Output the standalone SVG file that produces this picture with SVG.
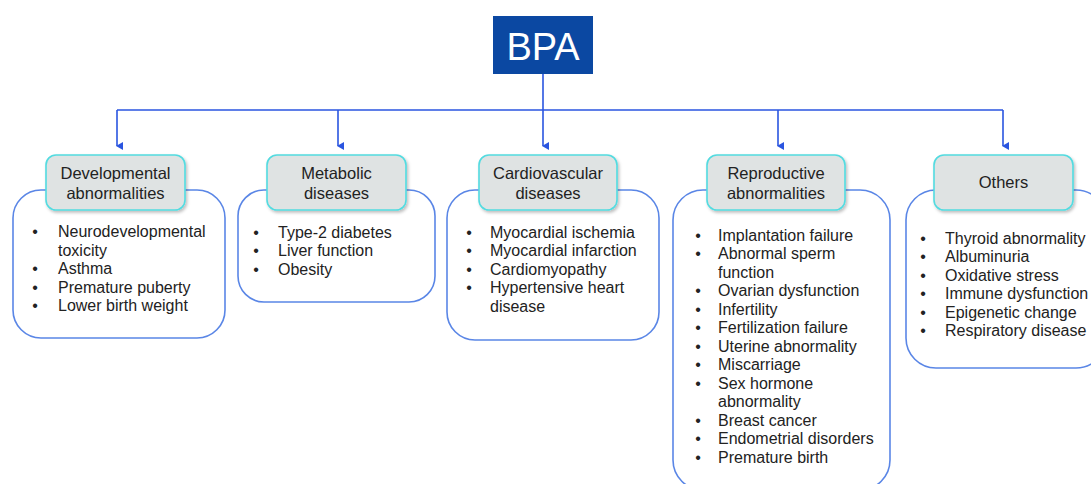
<svg xmlns="http://www.w3.org/2000/svg" width="1091" height="484" viewBox="0 0 1091 484">
<defs>
<marker id="arr" markerWidth="8" markerHeight="8" refX="4" refY="7" orient="auto" markerUnits="userSpaceOnUse" viewBox="0 0 8 8">
<path d="M0,1 L8,1 L4,8 Z" fill="#2a55e0"/>
</marker>
<filter id="sh" x="-10%" y="-10%" width="125%" height="135%">
<feDropShadow dx="1.5" dy="2" stdDeviation="1.5" flood-color="#000" flood-opacity="0.25"/>
</filter>
</defs>
<style>
.conn{fill:none;stroke:#2a55e0;stroke-width:1.6}
.outer{fill:#fff;stroke:#5a86e6;stroke-width:1.6}
.hdr{fill:#dfe3e3;stroke:#52dbe0;stroke-width:1.6;filter:url(#sh)}
.ht{font-family:"Liberation Sans",Arial,sans-serif;font-size:16.5px;fill:#222;text-anchor:middle}
.it{font-family:"Liberation Sans",Arial,sans-serif;font-size:16px;fill:#222}
.bu{font-family:"Liberation Sans",Arial,sans-serif;font-size:16px;fill:#222;text-anchor:middle}
</style>
<rect width="1091" height="484" fill="#fff"/>

<g id="bpa">
<rect x="493" y="16" width="100" height="58" fill="#0b48a2"/>
<text x="543" y="60" font-family="Liberation Sans,Arial,sans-serif" font-size="38" fill="#fff" text-anchor="middle">BPA</text>
</g>

<g id="connectors">
<path class="conn" d="M543,74 V110"/>
<path class="conn" d="M117,110 H1003"/>
<path class="conn" d="M117,110 V146" marker-end="url(#arr)"/>
<path class="conn" d="M338,110 V146" marker-end="url(#arr)"/>
<path class="conn" d="M543,110 V146" marker-end="url(#arr)"/>
<path class="conn" d="M778,110 V146" marker-end="url(#arr)"/>
<path class="conn" d="M1003,110 V146" marker-end="url(#arr)"/>
</g>

<g id="developmental">
<rect class="outer" x="13" y="190" width="212" height="148" rx="28"/>
<rect class="hdr" x="46" y="155" width="139" height="55" rx="10"/>
<text class="ht" x="115.5" y="179">Developmental</text>
<text class="ht" x="115.5" y="199">abnormalities</text>
<text class="bu" x="35" y="237">•</text><text class="it" x="58" y="237">Neurodevelopmental</text>
<text class="it" x="58" y="255.5">toxicity</text>
<text class="bu" x="35" y="274">•</text><text class="it" x="58" y="274">Asthma</text>
<text class="bu" x="35" y="292.5">•</text><text class="it" x="58" y="292.5">Premature puberty</text>
<text class="bu" x="35" y="311">•</text><text class="it" x="58" y="311">Lower birth weight</text>
</g>

<g id="metabolic">
<rect class="outer" x="238" y="190" width="197" height="112" rx="26"/>
<rect class="hdr" x="267" y="155" width="139" height="55" rx="10"/>
<text class="ht" x="336.5" y="179">Metabolic</text>
<text class="ht" x="336.5" y="199">diseases</text>
<text class="bu" x="256" y="237.5">•</text><text class="it" x="278" y="237.5">Type-2 diabetes</text>
<text class="bu" x="256" y="256">•</text><text class="it" x="278" y="256">Liver function</text>
<text class="bu" x="256" y="274.5">•</text><text class="it" x="278" y="274.5">Obesity</text>
</g>

<g id="cardiovascular">
<rect class="outer" x="447" y="190" width="212" height="150" rx="28"/>
<rect class="hdr" x="479" y="155" width="138" height="55" rx="10"/>
<text class="ht" x="548" y="179">Cardiovascular</text>
<text class="ht" x="548" y="199">diseases</text>
<text class="bu" x="469" y="237.5">•</text><text class="it" x="490" y="237.5">Myocardial ischemia</text>
<text class="bu" x="469" y="256">•</text><text class="it" x="490" y="256">Myocardial infarction</text>
<text class="bu" x="469" y="274.5">•</text><text class="it" x="490" y="274.5">Cardiomyopathy</text>
<text class="bu" x="469" y="293">•</text><text class="it" x="490" y="293">Hypertensive heart</text>
<text class="it" x="490" y="311.5">disease</text>
</g>

<g id="reproductive">
<rect class="outer" x="673" y="190" width="217" height="300" rx="30"/>
<rect class="hdr" x="707" y="155" width="138" height="55" rx="10"/>
<text class="ht" x="776" y="179">Reproductive</text>
<text class="ht" x="776" y="199">abnormalities</text>
<text class="bu" x="698" y="240.5">•</text><text class="it" x="718" y="240.5">Implantation failure</text>
<text class="bu" x="698" y="259">•</text><text class="it" x="718" y="259">Abnormal sperm</text>
<text class="it" x="718" y="277.5">function</text>
<text class="bu" x="698" y="296">•</text><text class="it" x="718" y="296">Ovarian dysfunction</text>
<text class="bu" x="698" y="314.5">•</text><text class="it" x="718" y="314.5">Infertility</text>
<text class="bu" x="698" y="333">•</text><text class="it" x="718" y="333">Fertilization failure</text>
<text class="bu" x="698" y="351.5">•</text><text class="it" x="718" y="351.5">Uterine abnormality</text>
<text class="bu" x="698" y="370">•</text><text class="it" x="718" y="370">Miscarriage</text>
<text class="bu" x="698" y="388.5">•</text><text class="it" x="718" y="388.5">Sex hormone</text>
<text class="it" x="718" y="407">abnormality</text>
<text class="bu" x="698" y="425.5">•</text><text class="it" x="718" y="425.5">Breast cancer</text>
<text class="bu" x="698" y="444">•</text><text class="it" x="718" y="444">Endometrial disorders</text>
<text class="bu" x="698" y="462.5">•</text><text class="it" x="718" y="462.5">Premature birth</text>
</g>

<g id="others">
<rect class="outer" x="906" y="190" width="200" height="178" rx="30"/>
<rect class="hdr" x="934" y="155" width="139" height="55" rx="10"/>
<text class="ht" x="1003.5" y="188">Others</text>
<text class="bu" x="923" y="243.5">•</text><text class="it" x="945" y="243.5">Thyroid abnormality</text>
<text class="bu" x="923" y="262">•</text><text class="it" x="945" y="262">Albuminuria</text>
<text class="bu" x="923" y="280.5">•</text><text class="it" x="945" y="280.5">Oxidative stress</text>
<text class="bu" x="923" y="299">•</text><text class="it" x="945" y="299">Immune dysfunction</text>
<text class="bu" x="923" y="317.5">•</text><text class="it" x="945" y="317.5">Epigenetic change</text>
<text class="bu" x="923" y="336">•</text><text class="it" x="945" y="336">Respiratory disease</text>
</g>
</svg>
